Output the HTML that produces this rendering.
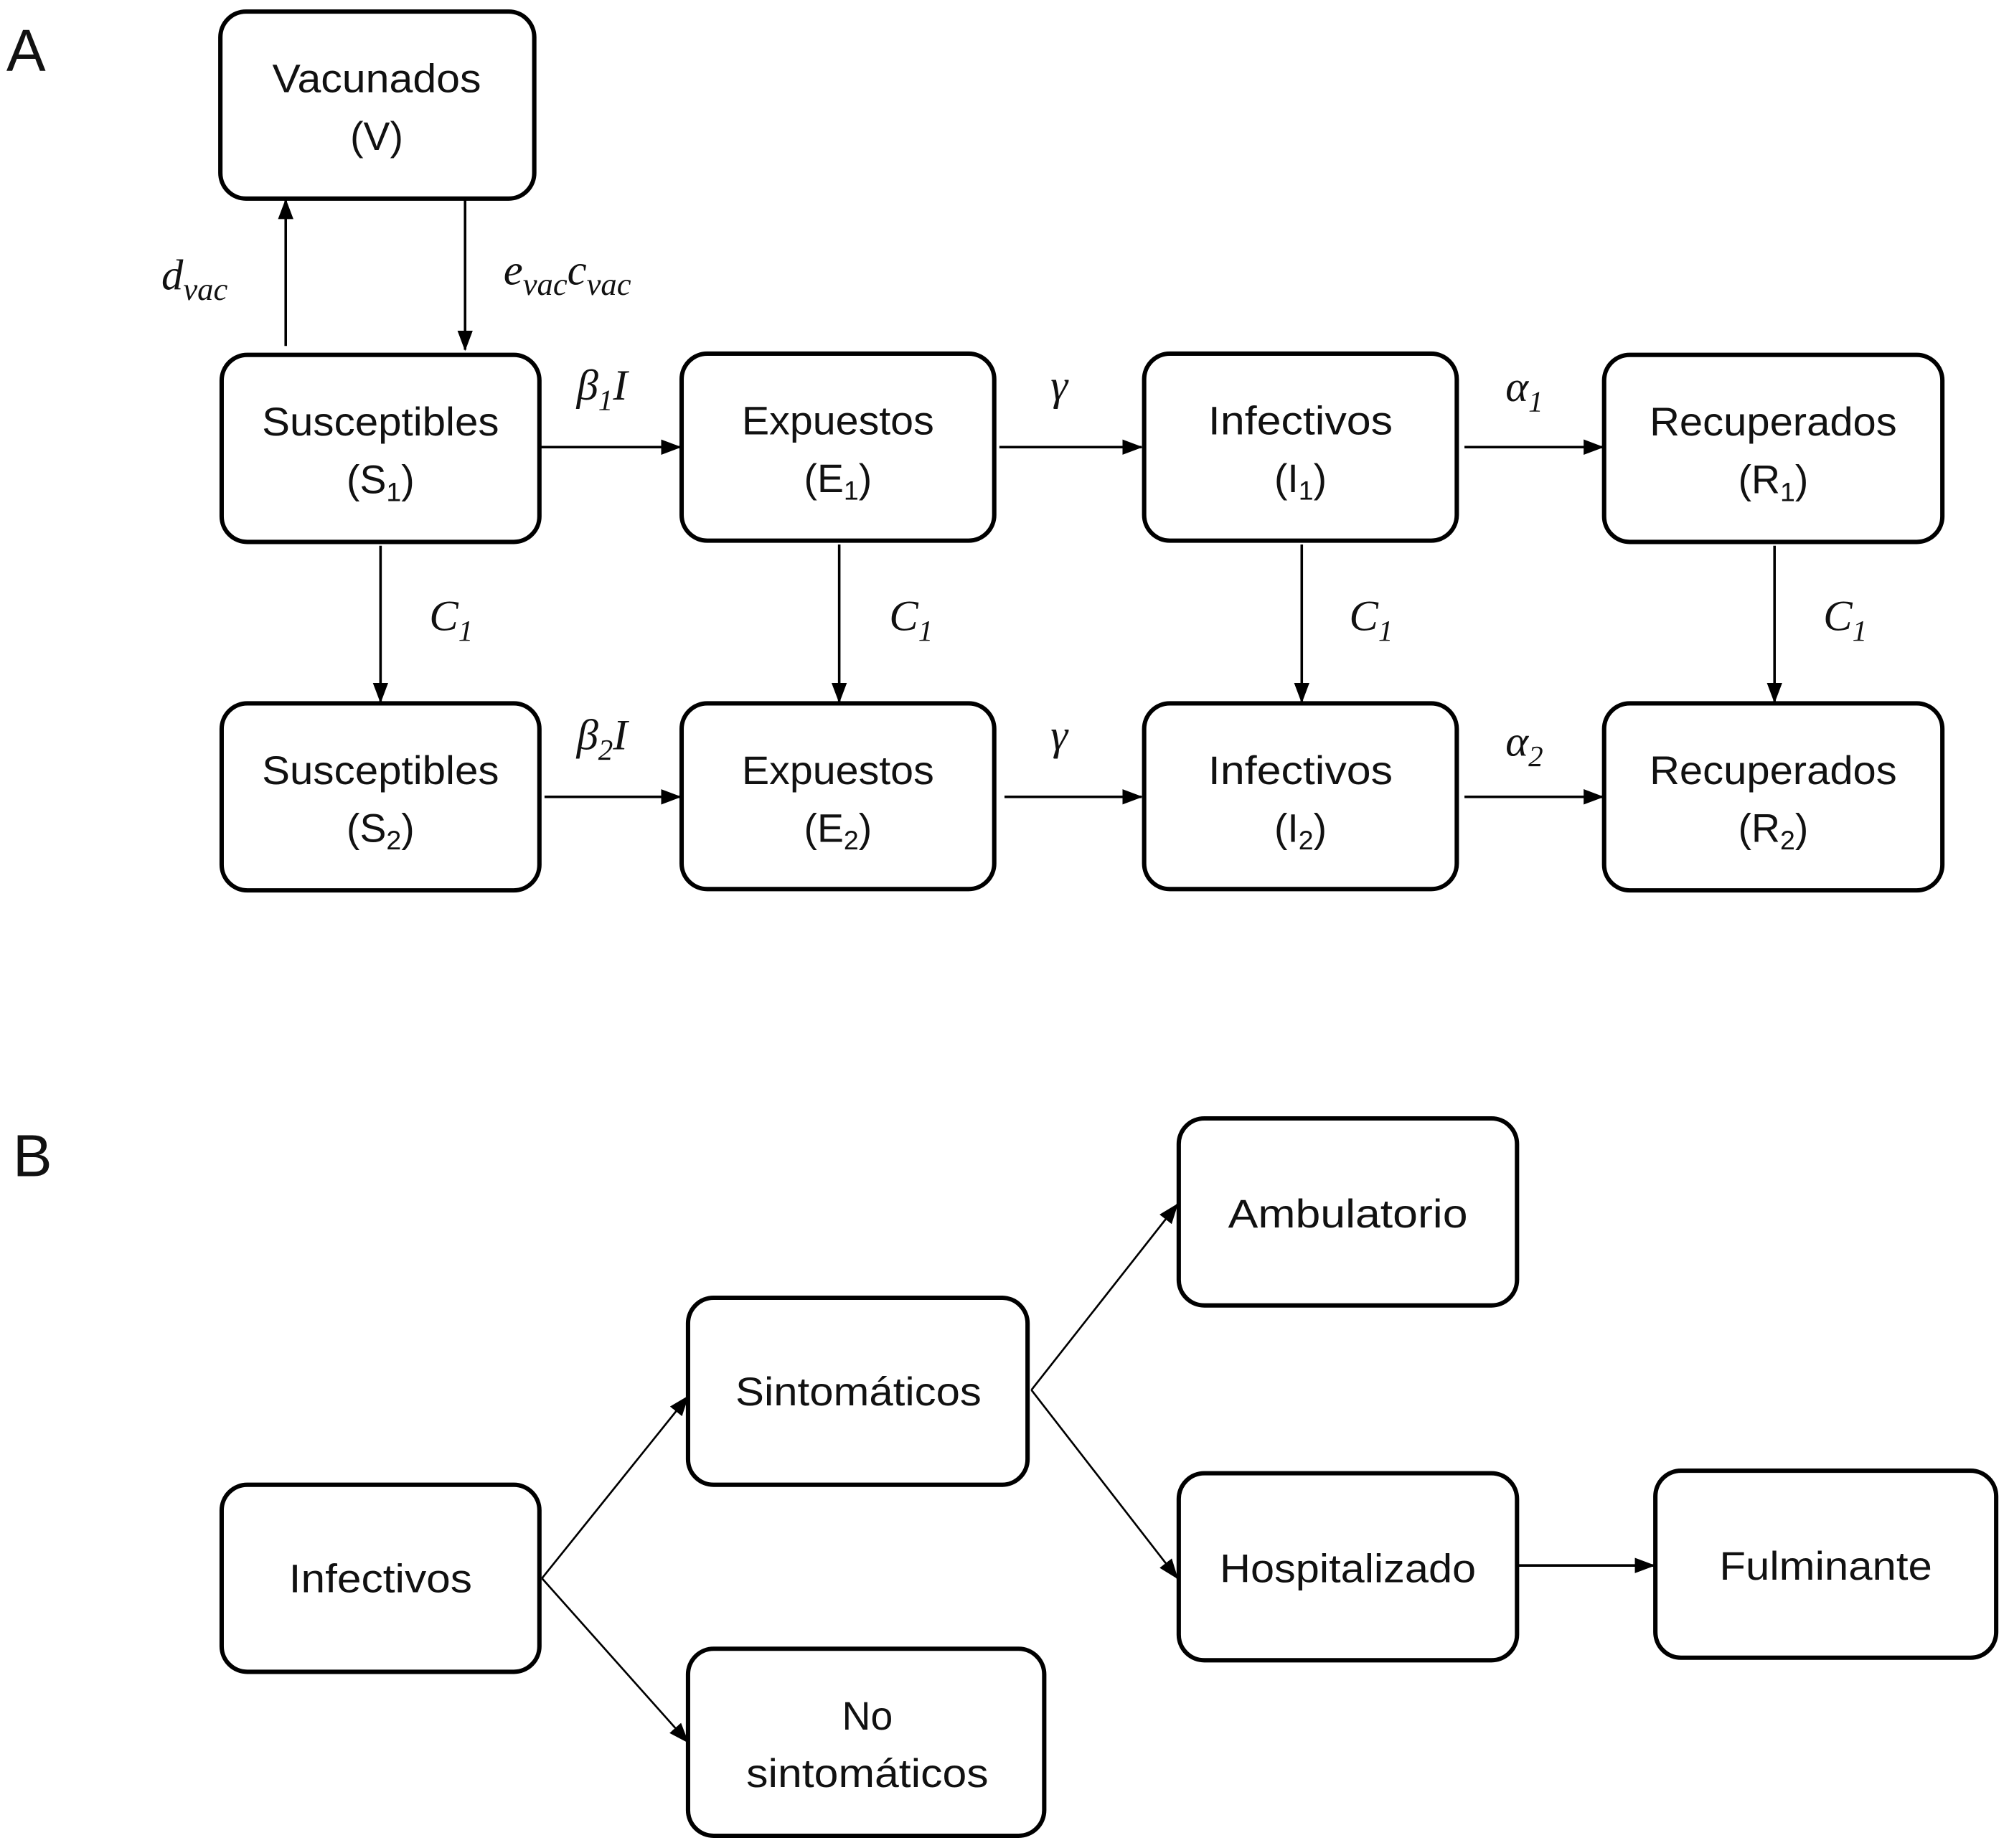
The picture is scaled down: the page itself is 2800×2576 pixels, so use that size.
<!DOCTYPE html>
<html><head><meta charset="utf-8"><style>
html,body{margin:0;padding:0;background:#fff;}
svg{display:block;}
text{font-family:"Liberation Sans",sans-serif;fill:#111;}
.t{font-size:31px;text-anchor:middle;}
.m{font-family:"Liberation Serif",serif;font-style:italic;font-size:34px;}
.s{font-size:21px;}
</style></head><body>
<svg width="2800" height="2576" viewBox="0 0 1568 1442.5" xmlns="http://www.w3.org/2000/svg">
<defs>
<marker id="b" markerWidth="16" markerHeight="16" refX="15" refY="8" orient="auto" markerUnits="userSpaceOnUse" viewBox="0 0 16 16"><path d="M0,2 L16,8 L0,14 Z" fill="#000"/></marker></defs>
<text x="5" y="55" style="font-size:46px">A</text>
<text x="10" y="918" style="font-size:46px">B</text>
<g fill="#fff" stroke="#000" stroke-width="3.4">
<rect x="172" y="9" width="245" height="146" rx="20"/>
<rect x="173" y="277" width="248" height="146" rx="20"/>
<rect x="532" y="276" width="244" height="146" rx="20"/>
<rect x="893" y="276" width="244" height="146" rx="20"/>
<rect x="1252" y="277" width="264" height="146" rx="20"/>
<rect x="173" y="549" width="248" height="146" rx="20"/>
<rect x="532" y="549" width="244" height="145" rx="20"/>
<rect x="893" y="549" width="244" height="145" rx="20"/>
<rect x="1252" y="549" width="264" height="146" rx="20"/>
<rect x="173" y="1159" width="248" height="146" rx="20"/>
<rect x="537" y="1013" width="265" height="146" rx="20"/>
<rect x="537" y="1287" width="278" height="146" rx="20"/>
<rect x="920" y="873" width="264" height="146" rx="20"/>
<rect x="920" y="1150" width="264" height="146" rx="20"/>
<rect x="1292" y="1148" width="266" height="146" rx="20"/>
</g>
<g stroke="#000" stroke-width="2" fill="none" marker-end="url(#b)">
<line x1="223" y1="270" x2="223" y2="156"/>
<line x1="363" y1="155" x2="363" y2="273"/>
<line x1="421" y1="349" x2="531" y2="349"/>
<line x1="780" y1="349" x2="891" y2="349"/>
<line x1="1143" y1="349" x2="1251" y2="349"/>
<line x1="425" y1="622" x2="531" y2="622"/>
<line x1="784" y1="622" x2="891" y2="622"/>
<line x1="1143" y1="622" x2="1251" y2="622"/>
<line x1="297" y1="426" x2="297" y2="548"/>
<line x1="655" y1="425" x2="655" y2="548"/>
<line x1="1016" y1="425" x2="1016" y2="548"/>
<line x1="1385" y1="426" x2="1385" y2="548"/>
<line x1="1184" y1="1222" x2="1291" y2="1222"/>
</g>
<g stroke="#000" stroke-width="1.5" fill="none" marker-end="url(#b)">
<line x1="423" y1="1232" x2="537" y2="1090"/>
<line x1="423" y1="1232" x2="537" y2="1360"/>
<line x1="805" y1="1085" x2="919" y2="940"/>
<line x1="805" y1="1085" x2="919" y2="1232"/>
</g>
<g lengthAdjust="spacingAndGlyphs">
<text class="t" x="294" y="72" textLength="163" lengthAdjust="spacingAndGlyphs">Vacunados</text>
<text class="t" x="294" y="117">(V)</text>
<text class="t" x="297" y="340" textLength="185" lengthAdjust="spacingAndGlyphs">Susceptibles</text>
<text class="t" x="297" y="385">(S<tspan class="s" dy="6">1</tspan><tspan dy="-6">)</tspan></text>
<text class="t" x="654" y="339" textLength="150" lengthAdjust="spacingAndGlyphs">Expuestos</text>
<text class="t" x="654" y="384">(E<tspan class="s" dy="6">1</tspan><tspan dy="-6">)</tspan></text>
<text class="t" x="1015" y="339" textLength="144" lengthAdjust="spacingAndGlyphs">Infectivos</text>
<text class="t" x="1015" y="384">(I<tspan class="s" dy="6">1</tspan><tspan dy="-6">)</tspan></text>
<text class="t" x="1384" y="340" textLength="193" lengthAdjust="spacingAndGlyphs">Recuperados</text>
<text class="t" x="1384" y="385">(R<tspan class="s" dy="6">1</tspan><tspan dy="-6">)</tspan></text>
<text class="t" x="297" y="612" textLength="185" lengthAdjust="spacingAndGlyphs">Susceptibles</text>
<text class="t" x="297" y="657">(S<tspan class="s" dy="6">2</tspan><tspan dy="-6">)</tspan></text>
<text class="t" x="654" y="612" textLength="150" lengthAdjust="spacingAndGlyphs">Expuestos</text>
<text class="t" x="654" y="657">(E<tspan class="s" dy="6">2</tspan><tspan dy="-6">)</tspan></text>
<text class="t" x="1015" y="612" textLength="144" lengthAdjust="spacingAndGlyphs">Infectivos</text>
<text class="t" x="1015" y="657">(I<tspan class="s" dy="6">2</tspan><tspan dy="-6">)</tspan></text>
<text class="t" x="1384" y="612" textLength="193" lengthAdjust="spacingAndGlyphs">Recuperados</text>
<text class="t" x="1384" y="657">(R<tspan class="s" dy="6">2</tspan><tspan dy="-6">)</tspan></text>
<text class="t" x="297" y="1243" textLength="143" lengthAdjust="spacingAndGlyphs">Infectivos</text>
<text class="t" x="670" y="1097" textLength="192" lengthAdjust="spacingAndGlyphs">Sintomáticos</text>
<text class="t" x="677" y="1350">No</text>
<text class="t" x="677" y="1395" textLength="189" lengthAdjust="spacingAndGlyphs">sintomáticos</text>
<text class="t" x="1052" y="958" textLength="187" lengthAdjust="spacingAndGlyphs">Ambulatorio</text>
<text class="t" x="1052" y="1235" textLength="200" lengthAdjust="spacingAndGlyphs">Hospitalizado</text>
<text class="t" x="1425" y="1233" textLength="166" lengthAdjust="spacingAndGlyphs">Fulminante</text>
</g>
<text class="m" x="126" y="226">d<tspan dy="8" style="font-size:25px">vac</tspan></text>
<text class="m" x="393" y="222">e<tspan dy="8" style="font-size:25px">vac</tspan><tspan dy="-8">c</tspan><tspan dy="8" style="font-size:25px">vac</tspan></text>
<text class="m" x="450" y="312">β<tspan dy="8" style="font-size:23px">1</tspan><tspan dy="-8">I</tspan></text>
<text class="m" x="450" y="585">β<tspan dy="8" style="font-size:23px">2</tspan><tspan dy="-8">I</tspan></text>
<text class="m" x="820" y="312">γ</text>
<text class="m" x="820" y="585">γ</text>
<text class="m" x="1175" y="313">α<tspan dy="8" style="font-size:23px">1</tspan></text>
<text class="m" x="1175" y="590">α<tspan dy="8" style="font-size:23px">2</tspan></text>
<text class="m" x="335" y="492">C<tspan dy="8" style="font-size:23px">1</tspan></text>
<text class="m" x="694" y="492">C<tspan dy="8" style="font-size:23px">1</tspan></text>
<text class="m" x="1053" y="492">C<tspan dy="8" style="font-size:23px">1</tspan></text>
<text class="m" x="1423" y="492">C<tspan dy="8" style="font-size:23px">1</tspan></text>
</svg>
</body></html>
